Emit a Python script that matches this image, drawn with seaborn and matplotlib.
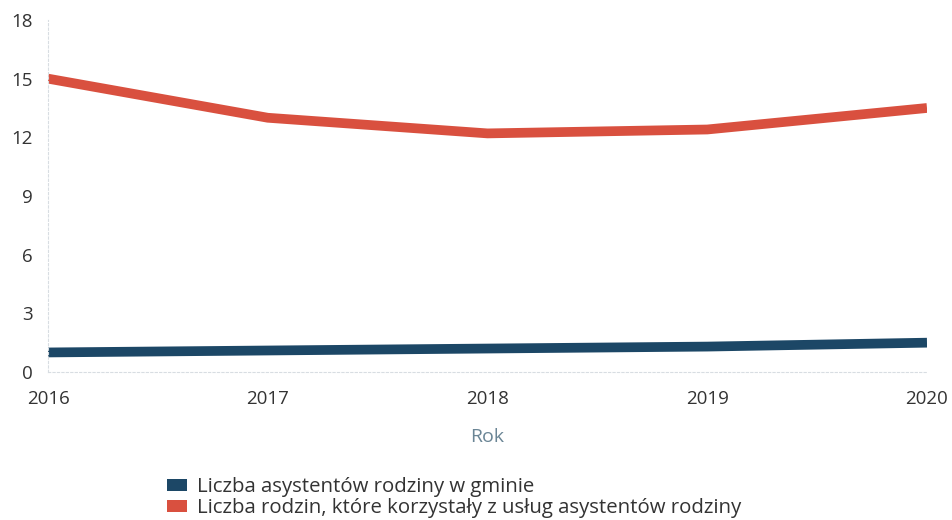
import matplotlib
matplotlib.use("Agg")
import matplotlib.pyplot as plt
from matplotlib.patches import Patch
import seaborn as sns
import pandas as pd

years = [2016, 2017, 2018, 2019, 2020]
asystenci = [1.0, 1.1, 1.2, 1.3, 1.5]
rodziny = [15.0, 13.0, 12.2, 12.4, 13.5]
series_names = ["Liczba asystentów rodziny w gminie",
                "Liczba rodzin, które korzystały z usług asystentów rodziny"]
colors = ["#1c4766", "#d9503f"]
y_ticks = [0, 3, 6, 9, 12, 15, 18]
x_label = "Rok"

df = pd.DataFrame({
    "Rok": years * 2,
    "value": asystenci + rodziny,
    "series": [series_names[0]] * len(years) + [series_names[1]] * len(years),
})

sns.set_theme(style="white")
plt.rcParams['font.family'] = ['Open Sans', 'DejaVu Sans']

fig = plt.figure(figsize=(9.53, 5.20), dpi=100)
ax = fig.add_axes([0.0504, 0.2846, 0.9223, 0.677])

sns.lineplot(data=df, x="Rok", y="value", hue="series", palette=colors,
             linewidth=7, ax=ax, legend=False, solid_capstyle="butt")

ax.set_xlim(years[0], years[-1])
ax.set_ylim(y_ticks[0], y_ticks[-1])
ax.set_xticks(years)
ax.set_xticklabels([str(y) for y in years])
ax.set_yticks(y_ticks)
ax.tick_params(axis="both", length=0, labelsize=13.5, colors="#333333")
ax.tick_params(axis="x", pad=13)
ax.tick_params(axis="y", pad=11)
ax.set_xlabel(x_label, fontsize=14, color="#6a8595", labelpad=14)
ax.set_ylabel("")

for s in ["top", "right"]:
    ax.spines[s].set_visible(False)
for s in ["left", "bottom"]:
    ax.spines[s].set_color("#d8dde2")
    ax.spines[s].set_linestyle((0, (2, 2)))
    ax.spines[s].set_linewidth(0.8)

handles = [Patch(facecolor=c, edgecolor="none") for c in colors]
fig.legend(handles, series_names, loc="upper left",
           bbox_to_anchor=(0.175, 0.082), frameon=False, fontsize=14.7,
           handlelength=1.0, handleheight=0.5, handletextpad=0.5,
           labelspacing=0.04, borderaxespad=0, borderpad=0,
           labelcolor="#333333")

fig.savefig("out.png", dpi=100)
